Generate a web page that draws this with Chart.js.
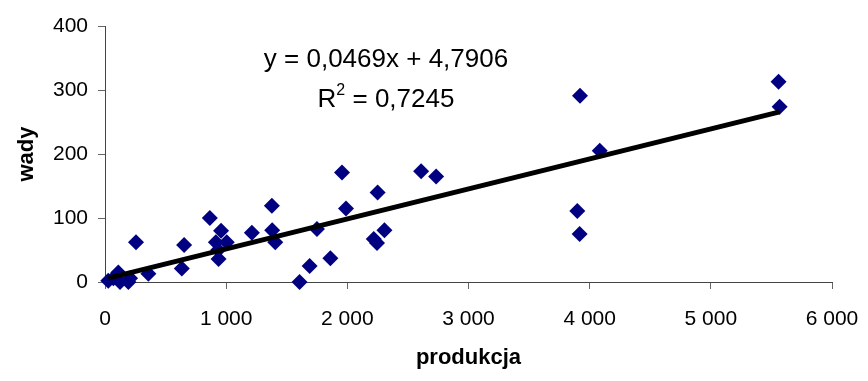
<!DOCTYPE html>
<html>
<head>
<meta charset="utf-8">
<script src="https://cdn.jsdelivr.net/npm/chart.js@4/dist/chart.umd.min.js"></script>
<style>
    html, body { margin: 0; padding: 0; background: #fff; }
    #wrap { width: 868px; height: 381px; position: relative; }
</style>
</head>
<body>
<div id="wrap"><canvas id="chart"></canvas></div>
<script>
(function () {
    "use strict";

    // produkcja (x) and wady (y)
    const produkcja = [27, 69, 110, 124, 193, 207, 256, 358, 634, 653,
        865, 915, 934, 937, 958, 1005, 1212, 1377, 1380, 1405,
        1606, 1689, 1749, 1860, 1956, 1989, 2218, 2245, 2250, 2306,
        2609, 2733, 3898, 3917, 3920, 4083, 5559, 5568];
    const wady = [2, 6, 15, 0, 0, 6, 62, 13, 21, 58,
        100, 62, 50, 36, 80, 62, 77, 119, 81, 62,
        0, 25, 83, 37, 171, 115, 67, 61, 140, 81,
        173, 165, 111, 75, 291, 205, 313, 274];

    // trend line from the printed equation
    const slope = 0.0469;
    const intercept = 4.7906;
    const rSquared = "0,7245";
    const equationText = "y = 0,0469x + 4,7906";

    const xTicks = [0, 1000, 2000, 3000, 4000, 5000, 6000];
    const yTicks = [0, 100, 200, 300, 400];

    const NAVY = "#000080";
    const FONT = "'Liberation Sans', Arial, Helvetica, sans-serif";

    const points = produkcja.map((x, i) => ({ x: x, y: wady[i] }));
    const xMin = Math.min.apply(null, produkcja);
    const xMax = Math.max.apply(null, produkcja);
    const trend = [xMin, xMax].map(x => ({ x: x, y: slope * x + intercept }));

    function fmt(v) {
        return String(v).replace(/\B(?=(\d{3})+(?!\d))/g, " ");
    }

    const equationPlugin = {
        id: "equation",
        afterDraw(chart) {
            const ctx = chart.ctx;
            ctx.save();
            ctx.fillStyle = "#000";
            ctx.textBaseline = "alphabetic";
            ctx.font = "26px " + FONT;
            ctx.textAlign = "center";
            ctx.fillText(equationText, 386, 67);

            // R² line with a real superscript
            const rest = " = " + rSquared;
            const wR = ctx.measureText("R").width;
            const wRest = ctx.measureText(rest).width;
            ctx.font = "16px " + FONT;
            const wSup = ctx.measureText("2").width;
            const total = wR + wSup + wRest;
            let x = 386 - total / 2;
            ctx.textAlign = "left";
            ctx.font = "26px " + FONT;
            ctx.fillText("R", x, 107);
            x += wR;
            ctx.font = "16px " + FONT;
            ctx.fillText("2", x, 95);
            x += wSup;
            ctx.font = "26px " + FONT;
            ctx.fillText(rest, x, 107);
            ctx.restore();
        }
    };

    const ctx = document.getElementById("chart").getContext("2d");
    new Chart(ctx, {
        type: "scatter",
        data: {
            datasets: [
                {
                    label: "trend",
                    data: trend,
                    showLine: true,
                    borderColor: "#000",
                    borderWidth: 5,
                    pointRadius: 0,
                    fill: false
                },
                {
                    label: "wady",
                    data: points,
                    pointStyle: "rectRot",
                    pointRadius: 8,
                    pointBackgroundColor: NAVY,
                    pointBorderColor: NAVY,
                    pointBorderWidth: 0,
                    clip: false
                }
            ]
        },
        options: {
            responsive: true,
            maintainAspectRatio: false,
            animation: false,
            layout: { padding: { top: 26, right: 36, left: 0, bottom: 0 } },
            plugins: {
                legend: { display: false },
                tooltip: { enabled: false }
            },
            scales: {
                x: {
                    type: "linear",
                    min: 0,
                    max: 6000,
                    afterBuildTicks(scale) { scale.ticks = xTicks.map(v => ({ value: v })); },
                    afterFit(scale) {
                        scale.height = 99;
                        scale.paddingLeft = 0;
                        scale.paddingRight = 0;
                    },
                    grid: { drawOnChartArea: false, drawTicks: true, tickLength: 7, color: "#666" },
                    border: { color: "#444", width: 1 },
                    ticks: {
                        color: "#000",
                        padding: 18,
                        font: { family: FONT, size: 21 },
                        maxRotation: 0,
                        callback: v => fmt(v)
                    },
                    title: {
                        display: true,
                        text: "produkcja",
                        color: "#000",
                        font: { family: FONT, size: 22, weight: "bold" },
                        padding: { top: 0, bottom: 10 }
                    }
                },
                y: {
                    type: "linear",
                    min: 0,
                    max: 400,
                    afterBuildTicks(scale) { scale.ticks = yTicks.map(v => ({ value: v })); },
                    afterFit(scale) {
                        scale.width = 105;
                        scale.paddingTop = 0;
                        scale.paddingBottom = 0;
                    },
                    grid: { drawOnChartArea: false, drawTicks: true, tickLength: 7, color: "#666" },
                    border: { color: "#444", width: 1 },
                    ticks: {
                        color: "#000",
                        padding: 10,
                        font: { family: FONT, size: 21 },
                        callback: v => fmt(v)
                    },
                    title: {
                        display: true,
                        text: "wady",
                        color: "#000",
                        font: { family: FONT, size: 22, weight: "bold" },
                        padding: { top: 14, bottom: 0 }
                    }
                }
            }
        },
        plugins: [equationPlugin]
    });
})();
</script>
</body>
</html>
